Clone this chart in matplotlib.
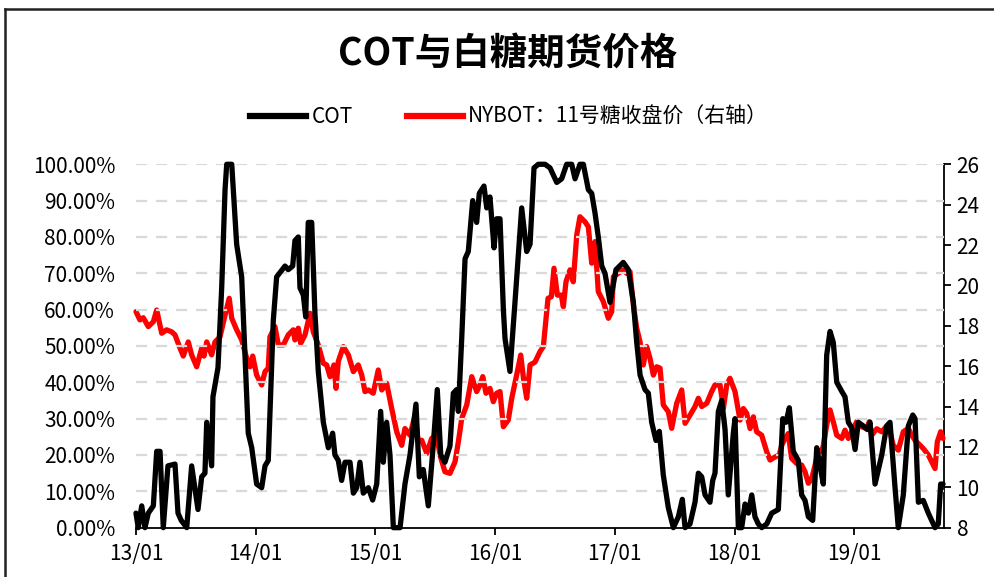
import numpy as np
import matplotlib
matplotlib.use("Agg")
import matplotlib.pyplot as plt
from matplotlib.lines import Line2D

plt.rcParams['font.family'] = ['Noto Sans CJK SC', 'DejaVu Sans']

# 时间轴用年份小数表示（2013.0 = 13/01）
cot_t = [2013.000, 2013.019, 2013.048, 2013.075, 2013.103, 2013.145, 2013.173, 2013.201,
         2013.228, 2013.267, 2013.326, 2013.351, 2013.378, 2013.424, 2013.465, 2013.518,
         2013.549, 2013.576, 2013.591, 2013.632, 2013.643, 2013.685, 2013.716, 2013.744,
         2013.758, 2013.800, 2013.841, 2013.883, 2013.911, 2013.938, 2013.967, 2014.008,
         2014.050, 2014.078, 2014.105, 2014.147, 2014.175, 2014.245, 2014.272, 2014.309,
         2014.328, 2014.356, 2014.370, 2014.398, 2014.418, 2014.439, 2014.468, 2014.495,
         2014.523, 2014.565, 2014.607, 2014.643, 2014.662, 2014.690, 2014.718, 2014.746,
         2014.788, 2014.816, 2014.844, 2014.871, 2014.899, 2014.941, 2014.977, 2015.011,
         2015.044, 2015.066, 2015.094, 2015.122, 2015.150, 2015.206, 2015.247, 2015.289,
         2015.339, 2015.367, 2015.400, 2015.442, 2015.484, 2015.517, 2015.546, 2015.581,
         2015.623, 2015.651, 2015.679, 2015.693, 2015.721, 2015.749, 2015.776, 2015.813,
         2015.846, 2015.868, 2015.907, 2015.930, 2015.957, 2015.991, 2016.013, 2016.041,
         2016.069, 2016.083, 2016.124, 2016.166, 2016.222, 2016.264, 2016.292, 2016.325,
         2016.361, 2016.417, 2016.459, 2016.515, 2016.556, 2016.598, 2016.640, 2016.668,
         2016.709, 2016.737, 2016.779, 2016.807, 2016.835, 2016.862, 2016.891, 2016.918,
         2016.960, 2017.010, 2017.071, 2017.113, 2017.155, 2017.183, 2017.211, 2017.252,
         2017.280, 2017.308, 2017.344, 2017.372, 2017.405, 2017.447, 2017.489, 2017.531,
         2017.564, 2017.587, 2017.628, 2017.670, 2017.698, 2017.726, 2017.754, 2017.795,
         2017.818, 2017.837, 2017.865, 2017.893, 2017.921, 2017.948, 2017.990, 2018.004,
         2018.032, 2018.060, 2018.088, 2018.116, 2018.144, 2018.171, 2018.199, 2018.227,
         2018.269, 2018.311, 2018.366, 2018.403, 2018.430, 2018.458, 2018.491, 2018.533,
         2018.561, 2018.589, 2018.617, 2018.653, 2018.687, 2018.714, 2018.742, 2018.770,
         2018.798, 2018.825, 2018.854, 2018.896, 2018.923, 2018.951, 2018.979, 2019.007,
         2019.034, 2019.076, 2019.110, 2019.132, 2019.174, 2019.230, 2019.271, 2019.299,
         2019.341, 2019.368, 2019.410, 2019.452, 2019.489, 2019.508, 2019.536, 2019.577,
         2019.619, 2019.647, 2019.675, 2019.702, 2019.722, 2019.742]
cot_pct = [4, 0, 6, 0, 4, 6, 21, 21,
           0, 17, 17.5, 4, 2, 0, 17, 5,
           14, 15, 29, 17, 36, 44, 66, 93,
           100, 100, 78, 69, 47, 26, 22, 12,
           11, 17, 18.5, 57, 69, 72, 71, 72,
           79, 80, 66, 64, 58, 84, 84, 59,
           43, 29, 22, 26, 20, 18.5, 13, 18,
           18, 9.5, 11, 18, 9.5, 11, 7.6, 12,
           32, 18, 29, 20, 0, 0, 12, 20,
           34, 14, 16, 6, 23, 38, 20, 18,
           22.5, 37, 38, 32, 52, 74, 76, 90,
           84, 92, 94, 88, 91, 77, 85, 85,
           60, 52, 43, 62, 88, 76, 78, 99,
           100, 100, 99, 95, 96, 100, 100, 96,
           100, 100, 93, 92, 86.5, 80, 72, 70,
           62, 71, 73, 71, 62, 51, 42, 38,
           37, 29, 24, 26.5, 14.5, 5.5, 0, 3,
           7.8, 0, 1, 7, 15, 14, 9, 7,
           13, 15, 32, 35, 27, 9, 26, 30,
           0, 0, 6.5, 4, 9, 3, 1, 0,
           1, 4, 5, 30, 29, 33, 21, 18.5,
           9, 7.5, 3, 2, 22, 17, 12, 47.5,
           54, 51, 40, 37.5, 36, 29, 27.5, 21.5,
           29, 28, 27, 29, 12, 20, 28, 29,
           11, 0, 9, 28, 31, 30, 7, 7.5,
           4, 2, 0, 1, 12, 12]

nybot_t = [2013.000, 2013.033, 2013.061, 2013.103, 2013.145, 2013.173, 2013.215, 2013.256,
           2013.298, 2013.326, 2013.368, 2013.395, 2013.437, 2013.465, 2013.507, 2013.549,
           2013.568, 2013.591, 2013.632, 2013.660, 2013.702, 2013.744, 2013.779, 2013.800,
           2013.841, 2013.883, 2013.925, 2013.952, 2013.975, 2014.008, 2014.050, 2014.078,
           2014.105, 2014.119, 2014.161, 2014.189, 2014.231, 2014.272, 2014.314, 2014.328,
           2014.356, 2014.376, 2014.412, 2014.454, 2014.481, 2014.523, 2014.565, 2014.593,
           2014.621, 2014.654, 2014.671, 2014.690, 2014.732, 2014.774, 2014.816, 2014.857,
           2014.886, 2014.913, 2014.941, 2014.982, 2015.024, 2015.053, 2015.094, 2015.136,
           2015.178, 2015.220, 2015.247, 2015.289, 2015.331, 2015.358, 2015.387, 2015.429,
           2015.470, 2015.512, 2015.540, 2015.581, 2015.623, 2015.665, 2015.693, 2015.721,
           2015.763, 2015.805, 2015.846, 2015.874, 2015.897, 2015.924, 2015.957, 2015.985,
           2016.013, 2016.041, 2016.069, 2016.110, 2016.139, 2016.180, 2016.214, 2016.237,
           2016.264, 2016.292, 2016.333, 2016.375, 2016.403, 2016.442, 2016.470, 2016.492,
           2016.520, 2016.553, 2016.570, 2016.592, 2016.626, 2016.653, 2016.682, 2016.709,
           2016.751, 2016.779, 2016.807, 2016.835, 2016.862, 2016.904, 2016.946, 2016.974,
           2016.988, 2017.029, 2017.071, 2017.099, 2017.127, 2017.155, 2017.183, 2017.211,
           2017.238, 2017.266, 2017.294, 2017.322, 2017.350, 2017.378, 2017.405, 2017.447,
           2017.475, 2017.517, 2017.559, 2017.587, 2017.628, 2017.670, 2017.698, 2017.726,
           2017.768, 2017.809, 2017.837, 2017.879, 2017.907, 2017.935, 2017.962, 2018.004,
           2018.046, 2018.074, 2018.102, 2018.130, 2018.158, 2018.185, 2018.227, 2018.269,
           2018.297, 2018.338, 2018.374, 2018.394, 2018.422, 2018.449, 2018.477, 2018.519,
           2018.561, 2018.589, 2018.617, 2018.645, 2018.687, 2018.714, 2018.742, 2018.770,
           2018.798, 2018.825, 2018.854, 2018.896, 2018.923, 2018.951, 2018.979, 2019.021,
           2019.063, 2019.104, 2019.126, 2019.146, 2019.188, 2019.230, 2019.266, 2019.299,
           2019.326, 2019.368, 2019.410, 2019.452, 2019.480, 2019.508, 2019.550, 2019.577,
           2019.619, 2019.647, 2019.675, 2019.694, 2019.722, 2019.742]
nybot_price = [18.70, 18.29, 18.40, 17.96, 18.20, 18.78, 17.63, 17.80,
               17.70, 17.55, 16.89, 16.50, 17.20, 16.56, 15.97, 16.89,
               16.50, 17.20, 16.56, 17.20, 17.45, 18.53, 19.36, 18.37,
               17.80, 17.30, 16.39, 15.97, 16.50, 15.56, 15.07, 15.73,
               15.90, 17.45, 17.96, 17.05, 17.05, 17.55, 17.80, 17.30,
               17.88, 17.13, 17.55, 18.62, 17.70, 17.05, 16.14, 16.06,
               15.48, 16.06, 14.90, 16.23, 16.97, 16.56, 15.73, 16.06,
               15.56, 14.74, 14.82, 14.66, 15.81, 14.82, 15.15, 13.91,
               12.75, 12.08, 12.91, 12.58, 13.57, 12.25, 12.33, 11.68,
               12.42, 12.58, 11.59, 10.77, 10.69, 11.26, 12.25, 13.40,
               14.08, 15.48, 14.74, 15.07, 15.48, 14.66, 14.90, 14.24,
               14.66, 14.74, 13.00, 13.33, 14.41, 15.56, 16.55, 15.40,
               14.41, 16.06, 16.20, 16.72, 16.97, 19.36, 19.44, 20.85,
               19.52, 19.52, 18.94, 20.18, 20.77, 20.18, 22.50, 23.40,
               23.15, 22.90, 21.10, 22.17, 19.69, 19.20, 18.37, 18.70,
               20.43, 20.60, 20.77, 20.60, 20.68, 19.03, 17.88, 17.20,
               16.06, 16.97, 16.39, 15.56, 15.97, 15.90, 14.08, 13.74,
               12.92, 14.16, 14.82, 13.17, 13.57, 14.00, 14.41, 14.00,
               14.16, 14.74, 15.07, 15.07, 13.90, 15.07, 15.40, 14.74,
               13.33, 13.90, 13.66, 12.91, 13.49, 12.75, 12.58, 11.76,
               11.35, 11.50, 11.60, 12.08, 12.42, 12.66, 11.43, 11.18,
               11.10, 10.77, 10.20, 10.44, 11.43, 11.43, 12.08, 13.08,
               13.83, 13.25, 12.58, 12.42, 12.83, 12.42, 12.75, 13.25,
               13.00, 12.90, 13.25, 12.58, 12.90, 12.75, 13.00, 12.75,
               12.08, 11.84, 12.75, 12.92, 12.58, 12.33, 12.08, 11.92,
               11.60, 11.26, 10.93, 12.25, 12.75, 12.42]

year_ticks = [2013, 2014, 2015, 2016, 2017, 2018, 2019]
year_labels = ['13/01', '14/01', '15/01', '16/01', '17/01', '18/01', '19/01']
pct_ticks = np.arange(0, 101, 10)
price_ticks = np.arange(8, 27, 2)

fig = plt.figure(figsize=(9.94, 5.77), dpi=100)
ax = fig.add_axes([0.1368, 0.0855, 0.8129, 0.6298])
ax2 = ax.twinx()

# 网格线
for v in pct_ticks[1:]:
    ax.axhline(v, color='#d9d9d9', lw=1.6, ls=(0, (5, 4)), zorder=0)

ax.plot(cot_t, cot_pct, color='black', lw=3.8, solid_capstyle='round',
        solid_joinstyle='round', clip_on=False, zorder=3)
ax2.plot(nybot_t, nybot_price, color='#ff0000', lw=3.8, solid_capstyle='round',
         solid_joinstyle='round', clip_on=False, zorder=3)
ax.set_zorder(ax2.get_zorder() + 1)
ax.patch.set_visible(False)

ax.set_xlim(2013, 2019.75)
ax.set_ylim(0, 100)
ax2.set_ylim(8, 26)

ax.set_xticks(year_ticks)
ax.set_xticklabels(year_labels)
ax.set_yticks(pct_ticks)
ax.set_yticklabels([f'{v:.2f}%' for v in pct_ticks])
ax2.set_yticks(price_ticks)

for a in (ax, ax2):
    for s in ('top', 'left'):
        a.spines[s].set_visible(False)
ax.spines['right'].set_visible(False)
ax2.spines['bottom'].set_visible(False)
ax.spines['bottom'].set_linewidth(1.3)
ax2.spines['right'].set_linewidth(1.3)

ax.tick_params(axis='y', length=0, labelsize=15, pad=15)
ax.tick_params(axis='x', direction='out', length=5, width=1.3, labelsize=15, pad=6)
ax2.tick_params(axis='y', direction='out', length=5, width=1.3, labelsize=15, pad=4)

fig.text(0.511, 0.908, 'COT与白糖期货价格', ha='center', va='center',
         fontsize=27, fontweight='bold')

handles = [Line2D([], [], color='black', lw=4.5),
           Line2D([], [], color='#ff0000', lw=4.5)]
fig.legend(handles, ['COT', 'NYBOT：11号糖收盘价（右轴）'], loc='center',
           bbox_to_anchor=(0.512, 0.797), ncol=2, frameon=False, fontsize=15,
           handlelength=2.7, handletextpad=0.25, columnspacing=2.6)

# 外框
fig.add_artist(Line2D([0.0055, 1.0], [0.984, 0.984], color='#222222', lw=1.8,
                      transform=fig.transFigure))
fig.add_artist(Line2D([0.0055, 0.0055], [0.0, 0.984], color='#222222', lw=1.8,
                      transform=fig.transFigure))

fig.savefig('out.png', dpi=100)
